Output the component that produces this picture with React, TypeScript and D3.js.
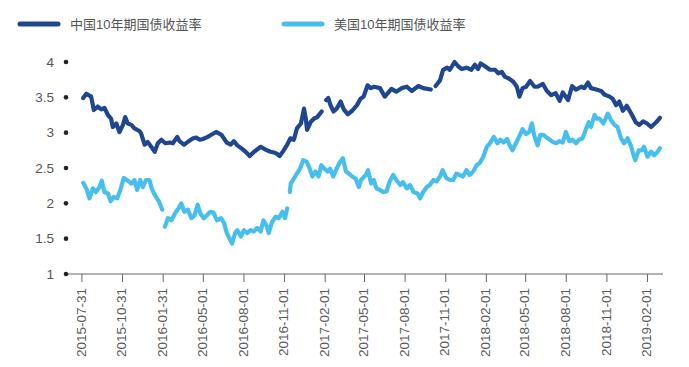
import React, { useEffect } from 'react';
import * as d3 from 'd3';

const WIDTH = 689;
const HEIGHT = 367;

const seriesNames = ['中国10年期国债收益率', '美国10年期国债收益率'];
const seriesColors = ['#1f4690', '#47bfee'];

const yTicks = [1, 1.5, 2, 2.5, 3, 3.5, 4];
const xTickLabels = [
    '2015-07-31', '2015-10-31', '2016-01-31', '2016-05-01', '2016-08-01',
    '2016-11-01', '2017-02-01', '2017-05-01', '2017-08-01', '2017-11-01',
    '2018-02-01', '2018-05-01', '2018-08-01', '2018-11-01', '2019-02-01',
];

// 中国10年期国债收益率 (null = 休市断点)
const chinaData: [string, number | null][] = [
    ['2015-08-03', 3.49], ['2015-08-10', 3.55], ['2015-08-21', 3.51], ['2015-08-27', 3.32],
    ['2015-09-05', 3.37], ['2015-09-13', 3.33], ['2015-09-20', 3.35], ['2015-09-28', 3.25],
    ['2015-10-05', 3.20], ['2015-10-09', 3.08], ['2015-10-17', 3.13], ['2015-10-24', 3.01],
    ['2015-11-01', 3.11], ['2015-11-06', 3.22], ['2015-11-12', 3.13], ['2015-11-20', 3.11],
    ['2015-11-27', 3.06], ['2015-12-09', 3.02], ['2015-12-12', 2.99], ['2015-12-20', 2.83],
    ['2015-12-27', 2.87], ['2016-01-04', 2.80], ['2016-01-12', 2.73], ['2016-01-19', 2.85],
    ['2016-01-27', 2.90], ['2016-02-05', 2.85], ['2016-02-15', 2.86], ['2016-02-22', 2.85],
    ['2016-03-03', 2.94], ['2016-03-08', 2.88], ['2016-03-18', 2.83], ['2016-03-27', 2.87],
    ['2016-04-08', 2.92], ['2016-04-15', 2.93], ['2016-04-23', 2.90], ['2016-04-30', 2.91],
    ['2016-05-11', 2.94], ['2016-05-19', 2.97], ['2016-05-30', 3.01], ['2016-06-11', 2.97],
    ['2016-06-23', 2.86], ['2016-07-02', 2.83], ['2016-07-09', 2.88], ['2016-07-17', 2.82],
    ['2016-07-28', 2.77], ['2016-08-08', 2.71], ['2016-08-14', 2.67], ['2016-08-24', 2.73],
    ['2016-09-08', 2.80], ['2016-09-19', 2.76], ['2016-09-30', 2.73], ['2016-10-08', 2.72],
    ['2016-10-15', 2.70], ['2016-10-21', 2.67], ['2016-10-30', 2.75], ['2016-11-07', 2.83],
    ['2016-11-14', 2.92], ['2016-11-22', 2.90], ['2016-11-29', 3.06], ['2016-12-08', 3.13],
    ['2016-12-15', 3.34], ['2016-12-19', 3.20], ['2016-12-22', 3.04], ['2016-12-30', 3.15],
    ['2017-01-07', 3.20], ['2017-01-14', 3.22], ['2017-01-24', 3.30], ['2017-01-30', null],
    ['2017-02-03', 3.46], ['2017-02-08', 3.49], ['2017-02-13', 3.39], ['2017-02-20', 3.30],
    ['2017-02-27', 3.34], ['2017-03-08', 3.44], ['2017-03-15', 3.33], ['2017-03-24', 3.26],
    ['2017-04-03', 3.31], ['2017-04-14', 3.39], ['2017-04-22', 3.48], ['2017-04-29', 3.51],
    ['2017-05-08', 3.67], ['2017-05-15', 3.63], ['2017-05-23', 3.65], ['2017-06-05', 3.63],
    ['2017-06-16', 3.51], ['2017-07-01', 3.62], ['2017-07-12', 3.58], ['2017-07-24', 3.63],
    ['2017-08-05', 3.65], ['2017-08-16', 3.59], ['2017-08-31', 3.66], ['2017-09-11', 3.63],
    ['2017-09-28', 3.61], ['2017-10-03', null], ['2017-10-09', 3.66], ['2017-10-19', 3.74],
    ['2017-10-26', 3.89], ['2017-11-04', 3.92], ['2017-11-10', 3.89], ['2017-11-21', 4.00],
    ['2017-11-29', 3.94], ['2017-12-07', 3.90], ['2017-12-18', 3.92], ['2017-12-29', 3.89],
    ['2018-01-06', 3.96], ['2018-01-13', 3.90], ['2018-01-19', 3.98], ['2018-01-29', 3.94],
    ['2018-02-09', 3.89], ['2018-02-21', 3.89], ['2018-02-28', 3.84], ['2018-03-08', 3.86],
    ['2018-03-15', 3.79], ['2018-03-23', 3.77], ['2018-04-03', 3.72], ['2018-04-11', 3.65],
    ['2018-04-17', 3.51], ['2018-04-24', 3.63], ['2018-05-02', 3.65], ['2018-05-11', 3.73],
    ['2018-05-21', 3.65], ['2018-05-28', 3.65], ['2018-06-09', 3.69], ['2018-06-18', 3.59],
    ['2018-06-28', 3.53], ['2018-07-08', 3.56], ['2018-07-17', 3.45], ['2018-07-24', 3.57],
    ['2018-08-05', 3.46], ['2018-08-14', 3.66], ['2018-08-23', 3.61], ['2018-09-04', 3.65],
    ['2018-09-11', 3.63], ['2018-09-19', 3.71], ['2018-09-26', 3.63], ['2018-10-08', 3.61],
    ['2018-10-19', 3.59], ['2018-10-26', 3.54], ['2018-11-07', 3.51], ['2018-11-14', 3.48],
    ['2018-11-22', 3.39], ['2018-11-29', 3.44], ['2018-12-07', 3.31], ['2018-12-16', 3.38],
    ['2018-12-26', 3.27], ['2019-01-05', 3.15], ['2019-01-13', 3.11], ['2019-01-22', 3.16],
    ['2019-01-31', 3.13], ['2019-02-09', 3.08], ['2019-02-21', 3.15], ['2019-03-01', 3.21],
];

// 美国10年期国债收益率
const usData: [string, number | null][] = [
    ['2015-08-03', 2.29], ['2015-08-10', 2.21], ['2015-08-17', 2.07], ['2015-08-25', 2.21],
    ['2015-09-01', 2.16], ['2015-09-09', 2.23], ['2015-09-14', 2.32], ['2015-09-20', 2.16],
    ['2015-09-28', 2.14], ['2015-10-04', 2.03], ['2015-10-11', 2.09], ['2015-10-19', 2.07],
    ['2015-10-26', 2.19], ['2015-11-03', 2.36], ['2015-11-12', 2.32], ['2015-11-20', 2.28],
    ['2015-11-27', 2.33], ['2015-12-03', 2.19], ['2015-12-10', 2.33], ['2015-12-16', 2.23],
    ['2015-12-23', 2.33], ['2015-12-31', 2.33], ['2016-01-05', 2.21], ['2016-01-12', 2.12],
    ['2016-01-22', 2.02], ['2016-01-29', 1.91], ['2016-02-01', null], ['2016-02-04', 1.67],
    ['2016-02-11', 1.79], ['2016-02-19', 1.76], ['2016-02-27', 1.86], ['2016-03-06', 1.93],
    ['2016-03-12', 2.00], ['2016-03-19', 1.88], ['2016-03-27', 1.91], ['2016-04-04', 1.79],
    ['2016-04-11', 1.83], ['2016-04-18', 1.98], ['2016-04-24', 1.86], ['2016-05-02', 1.79],
    ['2016-05-09', 1.83], ['2016-05-17', 1.88], ['2016-05-24', 1.87], ['2016-06-01', 1.76],
    ['2016-06-10', 1.79], ['2016-06-17', 1.72], ['2016-06-23', 1.58], ['2016-07-05', 1.43],
    ['2016-07-12', 1.58], ['2016-07-17', 1.62], ['2016-07-25', 1.53], ['2016-08-01', 1.62],
    ['2016-08-08', 1.58], ['2016-08-16', 1.62], ['2016-08-23', 1.60], ['2016-08-31', 1.65],
    ['2016-09-08', 1.60], ['2016-09-14', 1.76], ['2016-09-21', 1.69], ['2016-09-26', 1.58],
    ['2016-10-04', 1.74], ['2016-10-12', 1.81], ['2016-10-19', 1.79], ['2016-10-27', 1.88],
    ['2016-11-02', 1.79], ['2016-11-07', 1.93], ['2016-11-10', null], ['2016-11-13', 2.16],
    ['2016-11-15', 2.28], ['2016-11-22', 2.35], ['2016-11-29', 2.42], ['2016-12-06', 2.49],
    ['2016-12-13', 2.61], ['2016-12-21', 2.59], ['2016-12-28', 2.49], ['2017-01-03', 2.38],
    ['2017-01-10', 2.45], ['2017-01-17', 2.38], ['2017-01-23', 2.54], ['2017-01-30', 2.49],
    ['2017-02-07', 2.45], ['2017-02-12', 2.49], ['2017-02-19', 2.38], ['2017-02-27', 2.49],
    ['2017-03-05', 2.57], ['2017-03-13', 2.64], ['2017-03-20', 2.45], ['2017-03-27', 2.42],
    ['2017-04-03', 2.38], ['2017-04-11', 2.35], ['2017-04-18', 2.23], ['2017-04-23', 2.33],
    ['2017-05-04', 2.40], ['2017-05-09', 2.47], ['2017-05-16', 2.28], ['2017-05-22', 2.33],
    ['2017-05-28', 2.21], ['2017-06-05', 2.19], ['2017-06-12', 2.16], ['2017-06-20', 2.17],
    ['2017-06-27', 2.31], ['2017-07-05', 2.40], ['2017-07-12', 2.33], ['2017-07-21', 2.26],
    ['2017-07-27', 2.30], ['2017-08-05', 2.21], ['2017-08-12', 2.26], ['2017-08-20', 2.16],
    ['2017-08-29', 2.14], ['2017-09-04', 2.07], ['2017-09-11', 2.16], ['2017-09-19', 2.23],
    ['2017-09-26', 2.26], ['2017-10-04', 2.33], ['2017-10-11', 2.31], ['2017-10-19', 2.38],
    ['2017-10-25', 2.47], ['2017-11-02', 2.36], ['2017-11-10', 2.33], ['2017-11-18', 2.33],
    ['2017-11-25', 2.42], ['2017-12-03', 2.40], ['2017-12-10', 2.38], ['2017-12-18', 2.47],
    ['2017-12-25', 2.40], ['2018-01-02', 2.45], ['2018-01-10', 2.54], ['2018-01-17', 2.57],
    ['2018-01-25', 2.66], ['2018-02-02', 2.80], ['2018-02-09', 2.85], ['2018-02-18', 2.94],
    ['2018-02-26', 2.85], ['2018-03-05', 2.90], ['2018-03-12', 2.86], ['2018-03-20', 2.91],
    ['2018-03-26', 2.82], ['2018-04-01', 2.75], ['2018-04-09', 2.85], ['2018-04-16', 2.94],
    ['2018-04-24', 3.05], ['2018-05-02', 2.98], ['2018-05-09', 3.01], ['2018-05-15', 3.13],
    ['2018-05-20', 2.97], ['2018-05-28', 2.82], ['2018-06-03', 2.97], ['2018-06-10', 2.97],
    ['2018-06-20', 2.92], ['2018-07-01', 2.87], ['2018-07-09', 2.85], ['2018-07-16', 2.88],
    ['2018-07-24', 2.86], ['2018-07-31', 3.01], ['2018-08-08', 2.88], ['2018-08-15', 2.90],
    ['2018-08-23', 2.85], ['2018-08-30', 2.90], ['2018-09-07', 2.92], ['2018-09-15', 3.06],
    ['2018-09-21', 3.15], ['2018-09-26', 3.08], ['2018-10-04', 3.25], ['2018-10-09', 3.20],
    ['2018-10-15', 3.20], ['2018-10-24', 3.13], ['2018-11-03', 3.27], ['2018-11-10', 3.18],
    ['2018-11-18', 3.11], ['2018-11-25', 3.08], ['2018-12-03', 2.92], ['2018-12-10', 2.85],
    ['2018-12-18', 2.92], ['2018-12-25', 2.82], ['2018-12-30', 2.71], ['2019-01-04', 2.61],
    ['2019-01-12', 2.75], ['2019-01-19', 2.75], ['2019-01-24', 2.80], ['2019-02-01', 2.66],
    ['2019-02-09', 2.73], ['2019-02-16', 2.68], ['2019-02-24', 2.73], ['2019-03-01', 2.78],
];

const parse = d3.timeParse('%Y-%m-%d');

const margin = { left: 66, right: 26, top: 62, bottom: 93 };
const FONT = '"Liberation Sans", "Noto Sans CJK SC", sans-serif';

const App: React.FC = () => {
    useEffect(() => {
        document.body.style.margin = '0';
    }, []);

    const x = d3.scaleTime()
        .domain([parse('2015-06-25')!, parse('2019-03-08')!])
        .range([margin.left, WIDTH - margin.right]);
    const y = d3.scaleLinear()
        .domain([1, 4])
        .range([HEIGHT - margin.bottom, margin.top]);

    const line = d3.line<[string, number | null]>()
        .defined(d => d[1] !== null)
        .x(d => x(parse(d[0])!))
        .y(d => y(d[1] as number));

    const axisY = y(1);

    return (
        <svg width={WIDTH} height={HEIGHT} style={{ display: 'block', background: '#fff' }} fontFamily={FONT}>
            {/* legend */}
            {seriesNames.map((name, i) => (
                <g key={name} transform={`translate(${i === 0 ? 20 : 284}, 24)`}>
                    <line x1={0} x2={38} y1={0} y2={0} stroke={seriesColors[i]} strokeWidth={5} strokeLinecap="round" />
                    <text x={50} y={5} fontSize={13} fill="#555">{name}</text>
                </g>
            ))}

            {/* x axis */}
            <line x1={margin.left} x2={WIDTH - margin.right} y1={axisY} y2={axisY} stroke="#666" strokeWidth={1} />
            {xTickLabels.map(t => {
                const tx = x(parse(t)!);
                return (
                    <g key={t} transform={`translate(${tx},0)`}>
                        <line y1={axisY} y2={axisY + 8} stroke="#666" strokeWidth={1} />
                        <text
                            transform={`translate(-1,${axisY + 14}) rotate(-90)`}
                            textAnchor="end"
                            dy="0.35em"
                            fontSize={13.5}
                            fill="#5a5a5a"
                        >{t}</text>
                    </g>
                );
            })}

            {/* y axis: dots + labels */}
            {yTicks.map(t => (
                <g key={t}>
                    <circle cx={margin.left} cy={y(t)} r={2.3} fill="#222" />
                    <text x={margin.left - 12} y={y(t)} dy="0.35em" textAnchor="end" fontSize={13.5} fill="#555">{t}</text>
                </g>
            ))}

            {/* series */}
            {[chinaData, usData].map((data, i) => (
                <path
                    key={i}
                    d={line(data) || ''}
                    fill="none"
                    stroke={seriesColors[i]}
                    strokeWidth={4.2}
                    strokeLinejoin="round"
                    strokeLinecap="round"
                />
            ))}
        </svg>
    );
};

export default App;
